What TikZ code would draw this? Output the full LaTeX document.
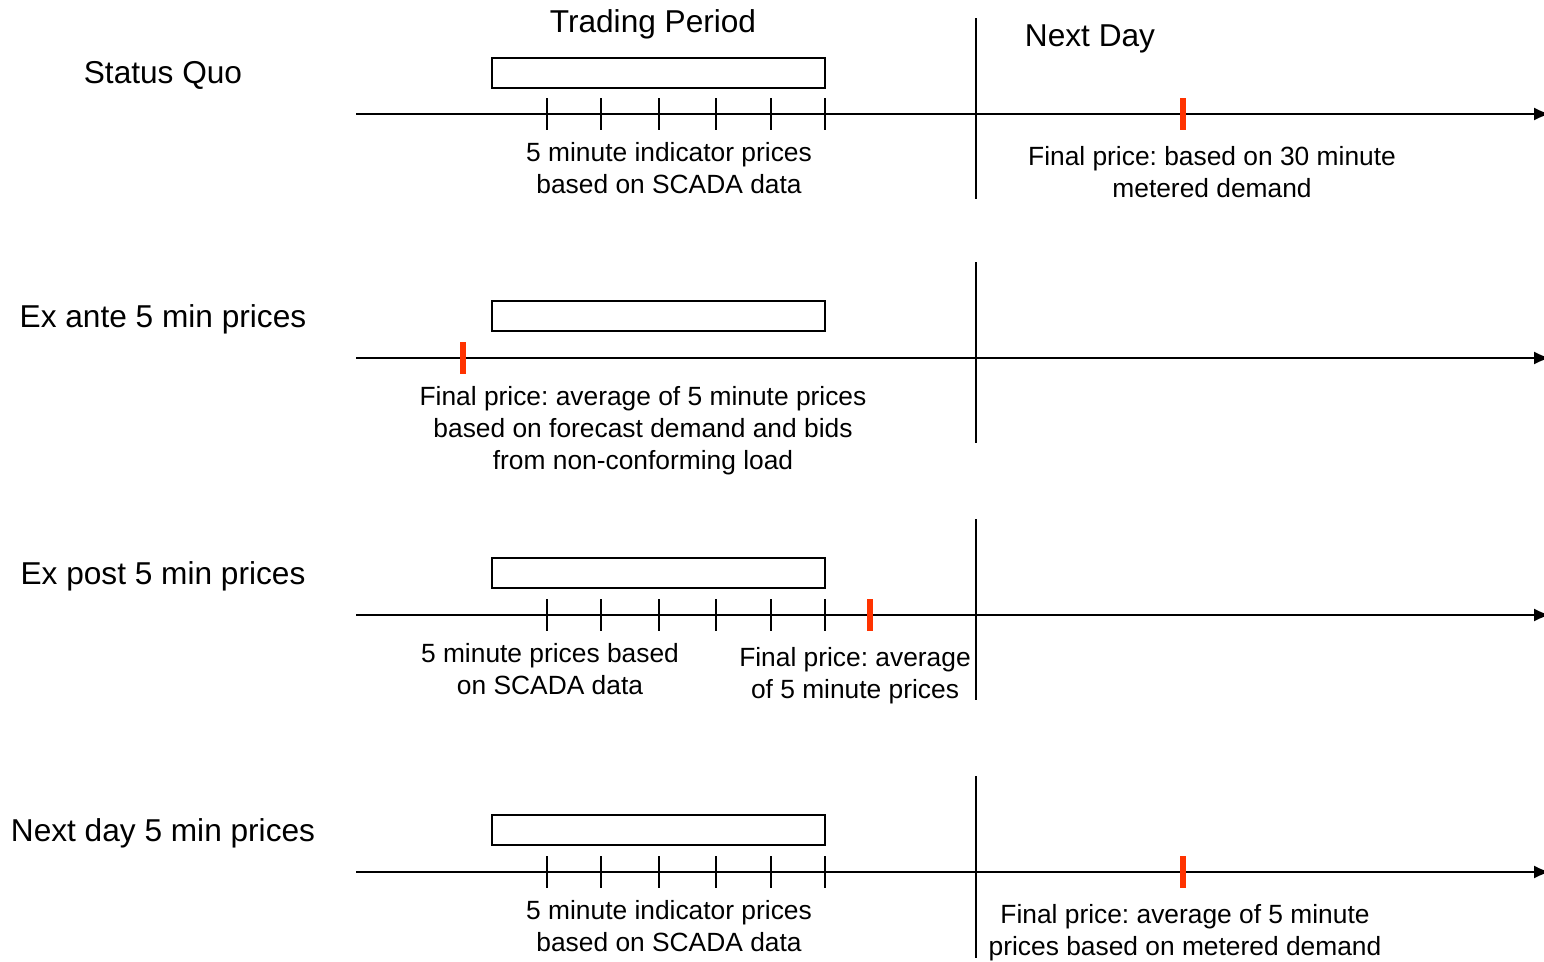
\documentclass[tikz,border=0pt]{standalone}
\usepackage{fontspec}
\setmainfont{Liberation Sans}
\usepackage{tikz}
\usetikzlibrary{arrows.meta,positioning}
\definecolor{MarkRed}{RGB}{255,51,0}
\frenchspacing
\tikzset{
  tl axis/.style={
    -{Latex[length=3.2mm,width=2.6mm]},
    draw=black,
    line width=1.1pt
  },
  tl day/.style={
    draw=black,
    line width=1.1pt
  },
  tl tick/.style={
    draw=black,
    line width=1.1pt
  },
  tl final/.style={
    draw=MarkRed,
    line width=3.4pt
  },
  period box/.style={
    draw=black,
    line width=1.1pt,
    minimum width=6.66cm,
    minimum height=0.6cm,
    inner sep=0pt
  },
  row label/.style={
    font=\fontsize{18}{21}\selectfont,
    inner sep=0pt
  },
  note/.style={
    align=center,
    font=\fontsize{15}{18.2}\selectfont,
    inner sep=0pt
  }
}

\begin{document}
\begin{tikzpicture}[x=0.02cm, y=-0.02cm]
        \useasboundingbox (0,0) rectangle (1544,961);

        % headings
        \node[row label] (tp) at (653,24) {Trading Period};
        \node[row label] (nd) at (1090,39) {Next Day};

        % status quo
        \node[row label] (r1) at (163,75) {Status Quo};
        \node[period box] (box1) at (658.5,73) {};
        \coordinate (s1) at (356,114);
        \coordinate (e1) at (1550,114);
        \draw[tl axis] (s1) -- (e1);
        \draw[tl day] (976,18) -- (976,199);
        \foreach \x in {547,601,659,716,771,825}
          \draw[tl tick] (\x,98) -- (\x,130);
        \draw[tl final] (1183,98) -- (1183,130);
        \node[note] (n1a) at (669,168) {5 minute indicator prices\\based on SCADA data};
        \node[note] (n1b) at (1212,172) {Final price: based on 30 minute\\metered demand};

        % ex ante
        \node[row label] (r2) at (163,319) {Ex ante 5 min prices};
        \node[period box] (box2) at (658.5,316) {};
        \coordinate (s2) at (356,358);
        \coordinate (e2) at (1550,358);
        \draw[tl axis] (s2) -- (e2);
        \draw[tl day] (976,262) -- (976,443);
        \draw[tl final] (463,342) -- (463,374);
        \node[note] (n2a) at (643,431) {Final price: average of 5 minute prices\\based on forecast demand and bids\\from non-conforming load};

        % ex post
        \node[row label] (r3) at (163,576) {Ex post 5 min prices};
        \node[period box] (box3) at (658.5,573) {};
        \coordinate (s3) at (356,615);
        \coordinate (e3) at (1550,615);
        \draw[tl axis] (s3) -- (e3);
        \draw[tl day] (976,519) -- (976,700);
        \foreach \x in {547,601,659,716,771,825}
          \draw[tl tick] (\x,599) -- (\x,631);
        \draw[tl final] (870,599) -- (870,631);
        \node[note] (n3a) at (550,669) {5 minute prices based\\on SCADA data};
        \node[note] (n3b) at (855,676) {Final price: average\\of 5 minute prices};

        % next day
        \node[row label] (r4) at (163,833) {Next day 5 min prices};
        \node[period box] (box4) at (658.5,830) {};
        \coordinate (s4) at (356,872);
        \coordinate (e4) at (1550,872);
        \draw[tl axis] (s4) -- (e4);
        \draw[tl day] (976,776) -- (976,958);
        \foreach \x in {547,601,659,716,771,825}
          \draw[tl tick] (\x,856) -- (\x,888);
        \draw[tl final] (1183,856) -- (1183,888);
        \node[note] (n4a) at (669,926) {5 minute indicator prices\\based on SCADA data};
        \node[note] (n4b) at (1185,933) {Final price: average of 5 minute\\prices based on metered demand};
      \end{tikzpicture}
\end{document}
